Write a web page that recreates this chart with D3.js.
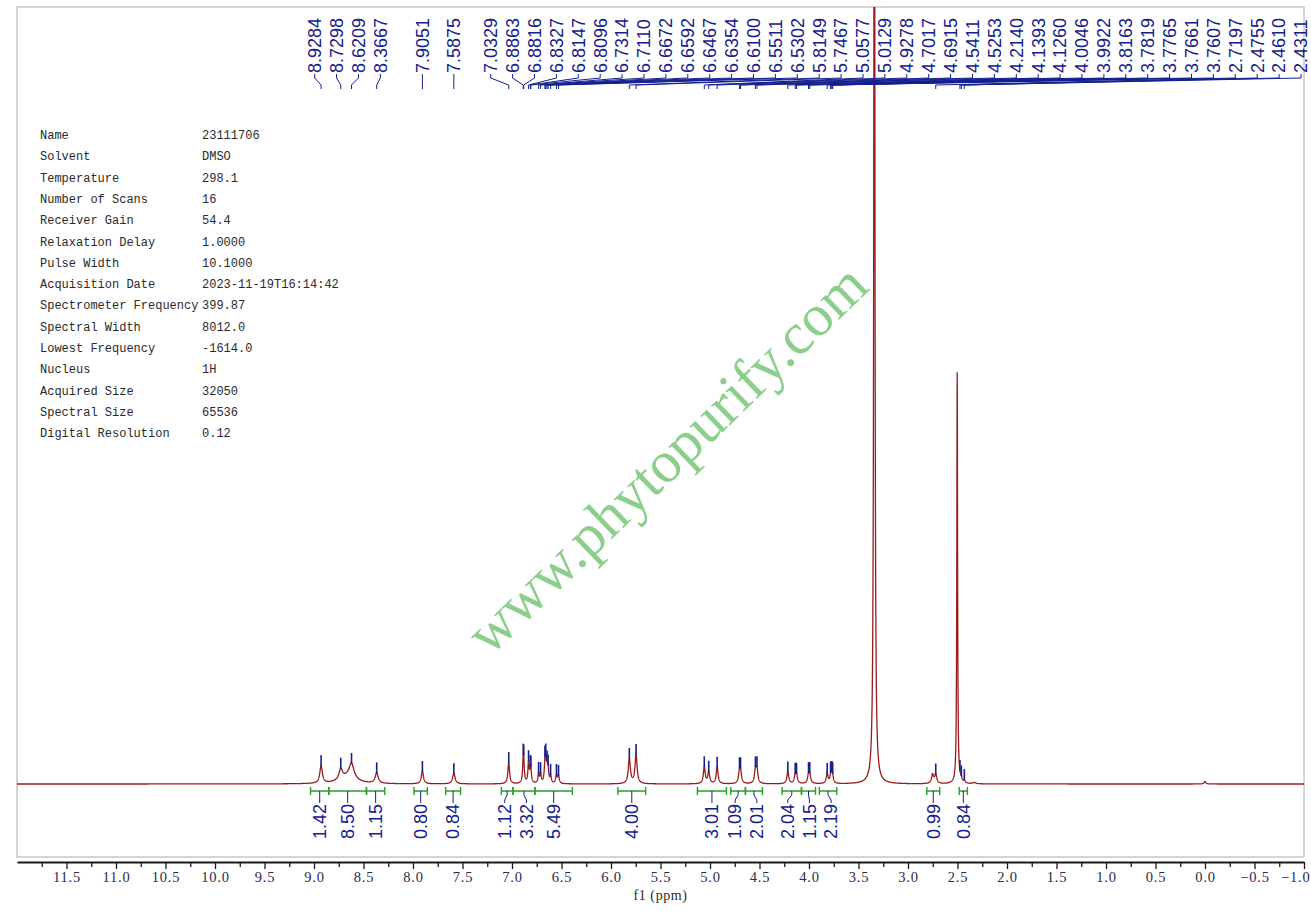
<!DOCTYPE html>
<html>
<head>
<meta charset="utf-8">
<script src="https://cdn.jsdelivr.net/npm/d3@7"></script>
<style>
  html, body { margin: 0; padding: 0; background: #fff; overflow: hidden; }
  svg { display: block; }
</style>
</head>
<body>
<div id="chart"></div>
<script>
// ---- data ----
const ppmDomain = [12, -1];
const majorTicks = d3.range(11.5, -1.01, -0.5);
const minorTicks = d3.range(11.75, -0.8, -0.5);

// picked peaks, labelled along the top
const peakLabels = [8.9284, 8.7298, 8.6209, 8.3667, 7.9051, 7.5875, 7.0329, 6.8863, 6.8816, 6.8327,
    6.8147, 6.8096, 6.7314, 6.7110, 6.6672, 6.6592, 6.6467, 6.6354, 6.6100, 6.5511, 6.5302,
    5.8149, 5.7467, 5.0577, 5.0129, 4.9278, 4.7017, 4.6915, 4.5411, 4.5253, 4.2140, 4.1393,
    4.1260, 4.0046, 3.9922, 3.8163, 3.7819, 3.7765, 3.7661, 3.7607, 2.7197, 2.4755, 2.4610, 2.4311];

// lines that make up the trace: position (ppm), height (DMSO = 100), width at half height (ppm)
const linePpm = [8.9284, 8.7298, 8.6209, 8.66, 8.3667, 7.9051, 7.5875, 7.0329, 6.8863, 6.8816,
    6.8327, 6.8147, 6.8096, 6.7314, 6.7110, 6.6672, 6.6592, 6.6467, 6.6354, 6.6100, 6.5511, 6.5302,
    5.8149, 5.7467, 5.0577, 5.0129, 4.9278, 4.7017, 4.6915, 4.5411, 4.5253, 4.2140, 4.1393, 4.1260,
    4.0046, 3.9922, 3.8163, 3.7819, 3.7765, 3.7661, 3.7607, 3.34, 2.752, 2.7197, 2.503, 2.4755,
    2.4610, 2.4311, 2.33, 0.0];
const lineHeight = [4.3, 2.6, 3.6, 1.6, 2.6, 3.1, 2.6, 5.3, 4.6, 3.6,
    5.0, 2.2, 2.2, 2.4, 2.2, 4.2, 4.2, 3.0, 3.0, 1.8, 2.0, 1.8,
    6.1, 7.1, 4.1, 2.9, 4.1, 2.6, 2.6, 3.2, 3.2, 2.9, 1.85, 1.85,
    1.95, 1.95, 2.4, 1.2, 1.2, 1.2, 1.2, 300, 2.2, 2.2, 100, 0.6,
    0.8, 0.7, 0.3, 0.6];
const lineWidth = [0.03, 0.04, 0.06, 0.2, 0.035, 0.025, 0.03, 0.02, 0.015, 0.015,
    0.015, 0.015, 0.015, 0.015, 0.015, 0.015, 0.015, 0.015, 0.015, 0.015, 0.018, 0.018,
    0.025, 0.025, 0.022, 0.022, 0.022, 0.022, 0.022, 0.022, 0.022, 0.022, 0.022, 0.022,
    0.022, 0.022, 0.022, 0.018, 0.018, 0.018, 0.018, 0.012, 0.025, 0.025, 0.009, 0.015,
    0.015, 0.015, 0.03, 0.02];

// integral regions
const integralFrom = [9.035, 8.85, 8.47, 7.99, 7.67, 7.108, 6.99, 6.768, 5.93, 5.127, 4.79, 4.642, 4.272, 4.076, 3.896, 2.81, 2.483];
const integralTo = [8.85, 8.47, 8.285, 7.855, 7.52, 6.99, 6.768, 6.39, 5.65, 4.834, 4.642, 4.47, 4.076, 3.934, 3.719, 2.68, 2.40];
const integralValues = ["1.42", "8.50", "1.15", "0.80", "0.84", "1.12", "3.32", "5.49", "4.00", "3.01", "1.09", "2.01", "2.04", "1.15", "2.19", "0.99", "0.84"];

// acquisition parameters
const paramNames = ["Name", "Solvent", "Temperature", "Number of Scans", "Receiver Gain", "Relaxation Delay",
    "Pulse Width", "Acquisition Date", "Spectrometer Frequency", "Spectral Width", "Lowest Frequency",
    "Nucleus", "Acquired Size", "Spectral Size", "Digital Resolution"];
const paramValues = ["23111706", "DMSO", "298.1", "16", "54.4", "1.0000", "10.1000", "2023-11-19T16:14:42",
    "399.87", "8012.0", "-1614.0", "1H", "32050", "65536", "0.12"];

// ---- layout ----
const W = 1311, H = 911;
const FRAME = { left: 17, right: 1304, top: 7, bottom: 857 };
const AXIS_Y = 862, BASE_Y = 784, FULL_Y = 373;
const LABEL_FONT = "'Liberation Sans', Arial, sans-serif";
const MONO_FONT = "'Liberation Mono', monospace";
const SERIF_FONT = "'Liberation Serif', 'Times New Roman', serif";
const RED = '#981c1c', NAVY = '#14208e', GREEN = '#2a9d2a';

const x = d3.scaleLinear().domain(ppmDomain).range([FRAME.left, FRAME.right]);
const y = d3.scaleLinear().domain([0, 100]).range([BASE_Y, FULL_Y]);

function intensity(ppm) {
    let s = 0;
    for (let i = 0; i < linePpm.length; i++) {
        const hw = lineWidth[i] / 2, d = ppm - linePpm[i];
        s += lineHeight[i] * hw * hw / (hw * hw + d * d);
    }
    return s;
}

// spread labels (targets ascending in x) so that they are at least `gap` apart
function spreadLabels(targets, gap, maxX) {
    const pos = targets.slice();
    for (let i = 1; i < pos.length; i++) pos[i] = Math.max(pos[i], pos[i - 1] + gap);
    pos[pos.length - 1] = Math.min(pos[pos.length - 1], maxX);
    for (let i = pos.length - 2; i >= 0; i--) pos[i] = Math.min(pos[i], pos[i + 1] - gap);
    // centre each crowded run on its targets, unless it is pressed against the edge
    let s = 0;
    while (s < pos.length) {
        let e = s;
        while (e + 1 < pos.length && pos[e + 1] - pos[e] < gap + 0.01) e++;
        if (e > s && pos[e] < maxX - 0.01) {
            const lo = s > 0 ? pos[s - 1] + gap - pos[s] : -Infinity;
            const hi = e < pos.length - 1 ? pos[e + 1] - gap - pos[e] : maxX - pos[e];
            const want = d3.mean(d3.range(s, e + 1), i => targets[i] - pos[i]);
            const shift = Math.max(lo, Math.min(hi, want));
            for (let i = s; i <= e; i++) pos[i] += shift;
        }
        s = e + 1;
    }
    return pos;
}

const svg = d3.select('#chart').append('svg')
    .attr('width', W)
    .attr('height', H);

svg.append('defs').append('clipPath').attr('id', 'plot-clip')
    .append('rect')
    .attr('x', FRAME.left).attr('y', FRAME.top)
    .attr('width', FRAME.right - FRAME.left).attr('height', FRAME.bottom - FRAME.top);

// frame
svg.append('rect')
    .attr('x', FRAME.left).attr('y', FRAME.top)
    .attr('width', FRAME.right - FRAME.left).attr('height', FRAME.bottom - FRAME.top)
    .attr('fill', 'none').attr('stroke', '#c8c8c8').attr('stroke-width', 1.5);

// watermark
svg.append('text')
    .attr('transform', 'translate(666,458) rotate(-44)')
    .attr('text-anchor', 'middle')
    .attr('dy', '0.35em')
    .attr('fill', '#8ccf8c')
    .style('font-family', SERIF_FONT)
    .style('font-size', '59px')
    .text('www.phytopurify.com');

// parameter table
const params = svg.append('g').attr('class', 'params')
    .style('font-family', MONO_FONT).style('font-size', '12px').attr('fill', '#2a2a2a');
paramNames.forEach((name, i) => {
    const yy = 139 + i * 21.3;
    params.append('text').attr('x', 40).attr('y', yy).text(name);
    params.append('text').attr('x', 202).attr('y', yy).text(paramValues[i]);
});

// spectrum trace
const grid = d3.range(ppmDomain[0], ppmDomain[1] - 0.0005, -0.001).concat(linePpm).sort((a, b) => b - a);
const trace = grid.map(p => [p, intensity(p)]);
svg.append('path')
    .datum(trace)
    .attr('clip-path', 'url(#plot-clip)')
    .attr('fill', 'none')
    .attr('stroke', RED)
    .attr('stroke-width', 1.3)
    .attr('stroke-linejoin', 'round')
    .attr('d', d3.line().x(d => x(d[0])).y(d => y(d[1])));

// peak pick markers
svg.append('g').attr('class', 'pick-marks')
    .selectAll('line').data(peakLabels).join('line')
    .attr('x1', d => x(d)).attr('x2', d => x(d))
    .attr('y1', d => y(intensity(d)) - 10)
    .attr('y2', d => y(intensity(d)) + 1)
    .attr('stroke', NAVY).attr('stroke-width', 1.6);

// peak labels along the top
const peakX = peakLabels.map(p => x(p));
const peakLabelX = spreadLabels(peakX, 21.9, 1301);
const peakG = svg.append('g').attr('class', 'peak-labels');
peakLabels.forEach((p, i) => {
    peakG.append('path')
        .attr('d', `M${peakLabelX[i]},74 V78 L${peakX[i]},85 V89`)
        .attr('fill', 'none').attr('stroke', NAVY).attr('stroke-width', 1);
    peakG.append('text')
        .attr('transform', `translate(${peakLabelX[i]},73) rotate(-90)`)
        .attr('dy', '0.35em')
        .attr('fill', NAVY)
        .style('font-family', LABEL_FONT).style('font-size', '18px')
        .text(p.toFixed(4));
});

// integrals
const integralG = svg.append('g').attr('class', 'integrals');
const BRACKET_Y = 791;
const integralCentre = integralFrom.map((f, i) => (x(f) + x(integralTo[i])) / 2);
const integralLabelX = spreadLabels(integralCentre, 21.7, Infinity);
integralFrom.forEach((f, i) => {
    const x0 = x(f), x1 = x(integralTo[i]);
    integralG.append('path')
        .attr('d', `M${x0},${BRACKET_Y - 4} V${BRACKET_Y + 4} M${x0},${BRACKET_Y} H${x1} M${x1},${BRACKET_Y - 4} V${BRACKET_Y + 4}`)
        .attr('fill', 'none').attr('stroke', GREEN).attr('stroke-width', 1.4);
    integralG.append('path')
        .attr('d', `M${integralCentre[i]},${BRACKET_Y} V${BRACKET_Y + 4} L${integralLabelX[i]},${BRACKET_Y + 9} V${BRACKET_Y + 12}`)
        .attr('fill', 'none').attr('stroke', NAVY).attr('stroke-width', 1);
    integralG.append('text')
        .attr('transform', `translate(${integralLabelX[i]},${BRACKET_Y + 13}) rotate(-90)`)
        .attr('text-anchor', 'end')
        .attr('dy', '0.35em')
        .attr('fill', NAVY)
        .style('font-family', LABEL_FONT).style('font-size', '18px')
        .text(integralValues[i]);
});

// x axis
const axisG = svg.append('g').attr('transform', `translate(0,${AXIS_Y})`);
axisG.call(d3.axisBottom(x).tickValues(majorTicks).tickSize(7).tickSizeOuter(0)
    .tickFormat(d => d3.format('.1f')(d).replace('-', '\u2212')));
axisG.select('.domain').attr('stroke', '#1a1a1a').attr('stroke-width', 1.8);
axisG.selectAll('.tick line').attr('stroke', '#1a1a1a').attr('stroke-width', 1.3);
axisG.selectAll('.tick text')
    .attr('y', 10)
    .attr('fill', '#2a2a4a')
    .style('font-family', SERIF_FONT).style('font-size', '14.5px')
    .style('letter-spacing', '0.8px');
// the last label sits on the frame edge: keep it inside the page
axisG.selectAll('.tick text').filter(d => d === majorTicks[majorTicks.length - 1])
    .attr('text-anchor', 'end').attr('x', 6);
const minorG = svg.append('g').attr('transform', `translate(0,${AXIS_Y})`);
minorG.call(d3.axisBottom(x).tickValues(minorTicks).tickSize(5).tickSizeOuter(0).tickFormat(''));
minorG.select('.domain').remove();
minorG.selectAll('.tick line').attr('stroke', '#1a1a1a').attr('stroke-width', 1.3);

svg.append('text')
    .attr('x', (FRAME.left + FRAME.right) / 2).attr('y', 900)
    .attr('text-anchor', 'middle')
    .attr('fill', '#2a2a2a')
    .style('font-family', SERIF_FONT).style('font-size', '14px')
    .style('letter-spacing', '0.6px')
    .text('f1 (ppm)');
</script>
</body>
</html>
